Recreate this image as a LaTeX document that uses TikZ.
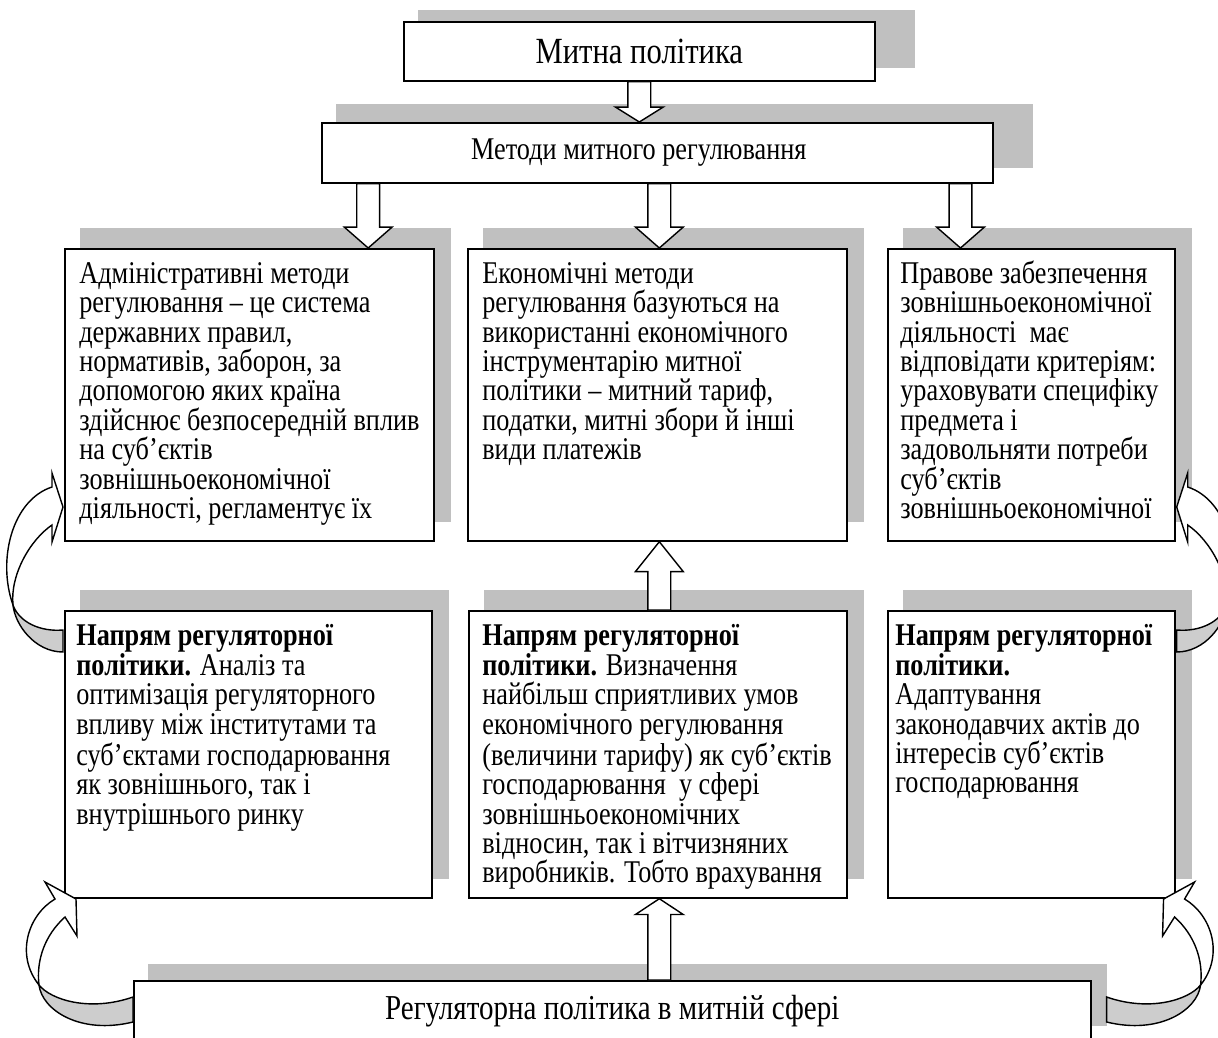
\documentclass[tikz,border=0pt]{standalone}
\usepackage{fontspec}
\setmainfont{Liberation Serif}[FakeStretch=0.83]
\usepackage{tikz}
\usetikzlibrary{calc}
\usetikzlibrary{backgrounds}
\definecolor{shadowgray}{RGB}{192,192,192}
\definecolor{bandgray}{RGB}{205,205,205}
\newcommand{\bodyfont}{\fontsize{18pt}{16.73pt}\selectfont}
\newcommand{\titlefont}{\fontsize{21pt}{22pt}\selectfont}
\newcommand{\basefont}{\fontsize{19.9pt}{21pt}\selectfont}
\newcommand{\topstrut}{\rule{0pt}{14pt}}
\tikzset{box/.style = {draw, line width=1pt, fill=white, anchor=north west, inner sep=0pt}}
\tikzset{txt/.style = {anchor=north west, inner sep=0pt, align=left, font=\bodyfont}}
\tikzset{fat/.style = {draw, line width=0.8pt, fill=white}}
\tikzset{band/.style = {draw, line width=0.8pt, fill=bandgray}}
\tikzset{bandfront/.style = {draw, line width=0.8pt, fill=white}}
% curved arrows, drawn from the lower box upwards
\tikzset{curlup/.pic = {
    \draw[band] (-51,-5) .. controls (-45,12) and (-24,22) .. (-1,20) -- (-1,42)
      .. controls (-29,42) and (-49,15) .. (-51,-5) -- cycle;
    \draw[bandfront] (-51,-5) .. controls (-67,-50) and (-52,-110) .. (-12,-123)
      -- (-12,-137) -- (-1,-103) -- (-12,-68) -- (-12,-85)
      .. controls (-34,-70) and (-54,-35) .. (-51,-5) -- cycle;
  }}
\tikzset{curllow/.pic = {
    \draw[band] (-94,5) .. controls (-82,20) and (-43,32) .. (0,17) -- (0,42)
      .. controls (-53,55) and (-91,30) .. (-94,5) -- cycle;
    \draw[bandfront] (-94,5) .. controls (-118,-25) and (-105,-65) .. (-78,-81)
      -- (-88,-98) -- (-57,-81) -- (-56,-44) -- (-68,-63)
      .. controls (-88,-45) and (-97,-20) .. (-94,5) -- cycle;
  }}
% block arrows: #1 tail, #2 tip, #3 head length
\newcommand{\fatdown}[3]{\draw[fat] let \p1=(#1), \p2=(#2) in
  ({\x1-6.5pt},\y1) -- ({\x1-6.5pt},{\y2+#3}) -- ({\x1-13.6pt},{\y2+#3}) -- (\x1,\y2)
  -- ({\x1+13.6pt},{\y2+#3}) -- ({\x1+6.5pt},{\y2+#3}) -- ({\x1+6.5pt},\y1) -- cycle;}
\newcommand{\fatup}[3]{\draw[fat] let \p1=(#1), \p2=(#2) in
  ({\x1-6.5pt},\y1) -- ({\x1-6.5pt},{\y2-#3}) -- ({\x1-13.6pt},{\y2-#3}) -- (\x1,\y2)
  -- ({\x1+13.6pt},{\y2-#3}) -- ({\x1+6.5pt},{\y2-#3}) -- ({\x1+6.5pt},\y1) -- cycle;}

\begin{document}
\begin{tikzpicture}[x=0.02cm, y=-0.02cm]
		\path[use as bounding box] (0,0) rectangle (1218,1038);
		\clip (0,0) rectangle (1218,1038);

		%top boxes
		\node[box, minimum width=9.42cm, minimum height=1.18cm, font=\titlefont] (MP) at (403,21) {Митна політика};
		\node[box, minimum width=13.42cm, minimum height=1.2cm, font=\bodyfont] (MR) at (321,122) {Методи митного регулювання\hspace*{0.74cm}};

		%methods
		\node[box, minimum width=7.38cm, minimum height=5.84cm] (AM) at (64,248) {};
		\node[box, minimum width=7.58cm, minimum height=5.84cm] (EM) at (467,248) {};
		\node[box, minimum width=5.74cm, minimum height=5.84cm] (PZ) at (887,248) {};
		\node[txt] (AMt) at ($(AM.north west)+(15,10.3)$) {\topstrut Адміністративні методи\\
			регулювання – це система\\ державних правил,\\ нормативів, заборон, за\\
			допомогою яких країна\\ здійснює безпосередній вплив\\ на суб’єктів\\
			зовнішньоекономічної\\ діяльності, регламентує їх};
		\node[txt] (EMt) at ($(EM.north west)+(15,10.3)$) {\topstrut Економічні методи\\
			регулювання базуються на\\ використанні економічного\\ інструментарію митної\\
			політики – митний тариф,\\ податки, митні збори й інші\\ види платежів};
		\node[txt] (PZt) at ($(PZ.north west)+(13,10.3)$) {\topstrut Правове забезпечення\\
			зовнішньоекономічної\\ діяльності\ \ має\\ відповідати критеріям:\\
			ураховувати специфіку\\ предмета і\\ задовольняти потреби\\ суб’єктів\\
			зовнішньоекономічної};

		%regulatory policy
		\node[box, minimum width=7.34cm, minimum height=5.74cm] (NL) at (64,610) {};
		\node[box, minimum width=7.56cm, minimum height=5.74cm] (NM) at (468,610) {};
		\node[box, minimum width=5.74cm, minimum height=5.74cm] (NR) at (887,610) {};
		\node[txt] (NLt) at ($(NL.north west)+(12,11)$) {\topstrut\textbf{Напрям регуляторної}\\
			\textbf{політики.} Аналіз та\\ оптимізація регуляторного\\ впливу між інститутами та\\
			суб’єктами господарювання\\ як зовнішнього, так і\\ внутрішнього ринку};
		\node[txt] (NMt) at ($(NM.north west)+(14,11)$) {\topstrut\textbf{Напрям регуляторної}\\
			\textbf{політики.} Визначення\\ найбільш сприятливих умов\\ економічного регулювання\\
			(величини тарифу) як суб’єктів\\ господарювання\ \ у сфері\\ зовнішньоекономічних\\
			відносин, так і вітчизняних\\ виробників. Тобто врахування};
		\node[txt] (NRt) at ($(NR.north west)+(8,11)$) {\topstrut\textbf{Напрям регуляторної}\\
			\textbf{політики.}\\ Адаптування\\ законодавчих актів до\\ інтересів суб’єктів\\
			господарювання};

		\node[box, minimum width=19.14cm, minimum height=1.2cm, font=\basefont] (RP) at (133,980) {Регуляторна політика в митній сфері};

		%shadows
		\begin{scope}[on background layer]
			\fill[shadowgray] ($(MP.north west)+(15,-11)$) rectangle ($(MP.south east)+(39,-14)$);
			\fill[shadowgray] ($(MR.north west)+(15,-18)$) rectangle ($(MR.south east)+(39,-16)$);
			\foreach \n in {AM,EM,PZ,NL,NM,NR}
				\fill[shadowgray] ($(\n.north west)+(16,-20)$) rectangle ($(\n.south east)+(16,-20)$);
			\fill[shadowgray] ($(RP.north west)+(15,-16)$) rectangle ($(RP.south east)+(15,-16)$);
		\end{scope}

		%block arrows
		\coordinate (a2) at ($(AM.north east)+(-66.5,0)$);
		\coordinate (a3) at ($(EM.north)+(2,0)$);
		\coordinate (a4) at ($(PZ.north west)+(73.5,0)$);
		\fatdown{MP.south}{MP.south |- MR.north}{8.5pt}
		\fatdown{MR.south -| a2}{a2}{11.9pt}
		\fatdown{MR.south -| a3}{a3}{11.9pt}
		\fatdown{MR.south -| a4}{a4}{11.9pt}
		\fatup{NM.north -| a3}{EM.south -| a3}{17pt}
		\fatup{RP.north -| a3}{NM.south -| a3}{9pt}

		%curved arrows
		\pic at (NL.north west) {curlup};
		\pic[xscale=-1] at (NR.north east) {curlup};
		\pic at (RP.north west) {curllow};
		\pic[xscale=-1] at ($(RP.north east)+(15,0)$) {curllow};
\end{tikzpicture}
\end{document}
